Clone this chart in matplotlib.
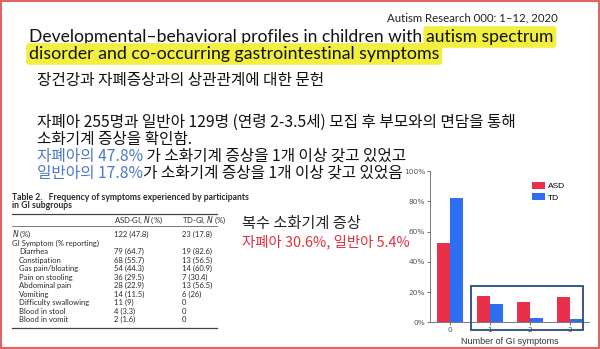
import matplotlib
matplotlib.use("Agg")
import matplotlib.pyplot as plt
from matplotlib.patches import Rectangle

W, H = 600, 349

# bar chart data (share of children by number of GI symptoms, %)
gi_counts = ["0", "1", "2", "3"]
asd_share = [52.2, 17.2, 13.6, 17.0]
td_share = [82.2, 12.4, 3.0, 2.4]

# table 2 data
symptoms = ["Diarrhea", "Constipation", "Gas pain/bloating", "Pain on stooling",
            "Abdominal pain", "Vomiting", "Difficulty swallowing",
            "Blood in stool", "Blood in vomit"]
asd_n = [79, 68, 54, 36, 28, 14, 11, 4, 2]
asd_pct = [64.7, 55.7, 44.3, 29.5, 22.9, 11.5, 9, 3.3, 1.6]
td_n = [19, 13, 14, 7, 13, 6, 0, 0, 0]
td_pct = [82.6, 56.5, 60.9, 30.4, 56.5, 26, None, None, None]

KR = ["Noto Sans CJK KR", "DejaVu Sans"]
LAT = "Lato"
RED = "#e0303c"
BLUE = "#4a78c8"

fig = plt.figure(figsize=(6, 3.49), dpi=100)
renderer = fig.canvas.get_renderer()


def fx(x):
    return x / W


def fy(y):
    return 1 - y / H


def runs(x, y, parts, size, family=KR):
    # draw text pieces one after another on the same baseline
    for s, color in parts:
        t = fig.text(fx(x), fy(y), s, fontsize=size, color=color,
                     family=family, va="baseline")
        x += t.get_window_extent(renderer).width
    return x


# header
fig.text(fx(558), fy(21), "Autism Research 000: 1\u201312, 2020", fontsize=8.2,
         family=LAT, ha="right", va="baseline", color="#222222")
hl = dict(boxstyle="round,pad=0.16", fc="#f2ef3e", ec="none")
x_end = runs(29, 42, [("Developmental\u2013behavioral profiles in children with", "#111111")],
             12.6, family=LAT)
fig.text(fx(x_end + 4), fy(42), "autism spectrum", fontsize=12.6, family=LAT,
         va="baseline", color="#111111", bbox=hl)
fig.text(fx(29), fy(59), "disorder and co-occurring gastrointestinal symptoms",
         fontsize=12.8, family=LAT, va="baseline", color="#111111", bbox=hl)

# korean body
KS = 11.3
fig.text(fx(37), fy(85), "장건강과 자폐증상과의 상관관계에 대한 문헌", fontsize=KS,
         family=KR, va="baseline", color="#111111")
fig.text(fx(37), fy(127), "자폐아 255명과 일반아 129명 (연령 2-3.5세) 모집 후 부모와의 면담을 통해",
         fontsize=KS, family=KR, va="baseline", color="#111111")
fig.text(fx(37), fy(144), "소화기계 증상을 확인함.", fontsize=KS, family=KR,
         va="baseline", color="#111111")
runs(37, 161, [("자폐아의 47.8%", BLUE), (" 가 소화기계 증상을 1개 이상 갖고 있었고", "#111111")], KS)
runs(37, 178, [("일반아의 17.8%", BLUE), ("가 소화기계 증상을 1개 이상 갖고 있었음", "#111111")], KS)

fig.text(fx(242), fy(228), "복수 소화기계 증상", fontsize=11, family=KR,
         va="baseline", color="#222222")
fig.text(fx(242), fy(246), "자폐아 30.6%, 일반아 5.4%", fontsize=10.4, family=KR,
         va="baseline", color=RED)

# table
tc = "#2a2a2a"
TS = 5.5
fig.text(fx(12), fy(199.5), "Table 2.   Frequency of symptoms experienced by participants",
         fontsize=6.2, family=LAT, weight="bold", va="baseline", color=tc)
fig.text(fx(12), fy(208.5), "in GI subgroups", fontsize=6.2, family=LAT, weight="bold",
         va="baseline", color=tc)
for yy in [213.5, 225.5, 327.5]:
    fig.add_artist(plt.Line2D([fx(12), fx(217)], [fy(yy), fy(yy)], color="#444444",
                              lw=0.9 if yy != 225.5 else 0.5))
fig.text(fx(114), fy(222.5), "ASD-GI, $N$ (%)", fontsize=TS, family=LAT, va="baseline", color=tc)
fig.text(fx(182), fy(222.5), "TD-GI, $N$ (%)", fontsize=TS, family=LAT, va="baseline", color=tc)
fig.text(fx(12), fy(237), "$N$ (%)", fontsize=TS, family=LAT, va="baseline", color=tc)
fig.text(fx(114), fy(237), "122 (47.8)", fontsize=TS, family=LAT, va="baseline", color=tc)
fig.text(fx(182), fy(237), "23 (17.8)", fontsize=TS, family=LAT, va="baseline", color=tc)
fig.text(fx(12), fy(245.5), "GI Symptom (% reporting)", fontsize=TS, family=LAT,
         va="baseline", color=tc)
for i, name in enumerate(symptoms):
    yy = 254.3 + i * 8.5
    fig.text(fx(19), fy(yy), name, fontsize=TS, family=LAT, va="baseline", color=tc)
    fig.text(fx(114), fy(yy), f"{asd_n[i]} ({asd_pct[i]:g})", fontsize=TS, family=LAT,
             va="baseline", color=tc)
    td_txt = f"{td_n[i]} ({td_pct[i]:g})" if td_pct[i] is not None else f"{td_n[i]}"
    fig.text(fx(182), fy(yy), td_txt, fontsize=TS, family=LAT, va="baseline", color=tc)

# bar chart
ax = fig.add_axes([fx(430), 1 - 322.3 / H, 159 / W, 151.3 / H])
xs = range(len(gi_counts))
bw = 0.33
ax.bar([i - bw / 2 for i in xs], asd_share, width=bw, color="#e8304a", label="ASD")
ax.bar([i + bw / 2 for i in xs], td_share, width=bw, color="#2d6ef2", label="TD")
ax.set_xlim(-0.5, 3.48)
ax.set_ylim(0, 100)
ax.set_xticks(list(xs))
ax.set_xticklabels(gi_counts)
ax.set_yticks(range(0, 101, 20))
ax.set_yticklabels([f"{v}%" for v in range(0, 101, 20)])
ax.tick_params(labelsize=5.3, length=2, width=0.6, colors="#555555", pad=1.5)
for s in ["top", "right"]:
    ax.spines[s].set_visible(False)
for s in ["left", "bottom"]:
    ax.spines[s].set_color("#777777")
    ax.spines[s].set_linewidth(0.7)
ax.patch.set_alpha(0)
ax.set_xlabel("Number of GI symptoms", fontsize=6.5, family="Liberation Sans",
              color="#333333", labelpad=3)
ax.legend(loc="upper left", bbox_to_anchor=(0.615, 0.955), frameon=False,
          handlelength=1.6, handleheight=0.9, handletextpad=0.3, borderpad=0,
          labelspacing=0.35, prop={"family": "Liberation Sans", "size": 6})

fig.add_artist(Rectangle((fx(471), fy(330)), 112 / W, 44 / H, transform=fig.transFigure,
                         fill=False, ec="#2a4a82", lw=1.3))

# slide border
fig.add_artist(Rectangle((0.001, 0.002), 0.997, 0.995, transform=fig.transFigure,
                         fill=False, ec="#e06464", lw=1.5))

fig.savefig("out.png", dpi=100)
